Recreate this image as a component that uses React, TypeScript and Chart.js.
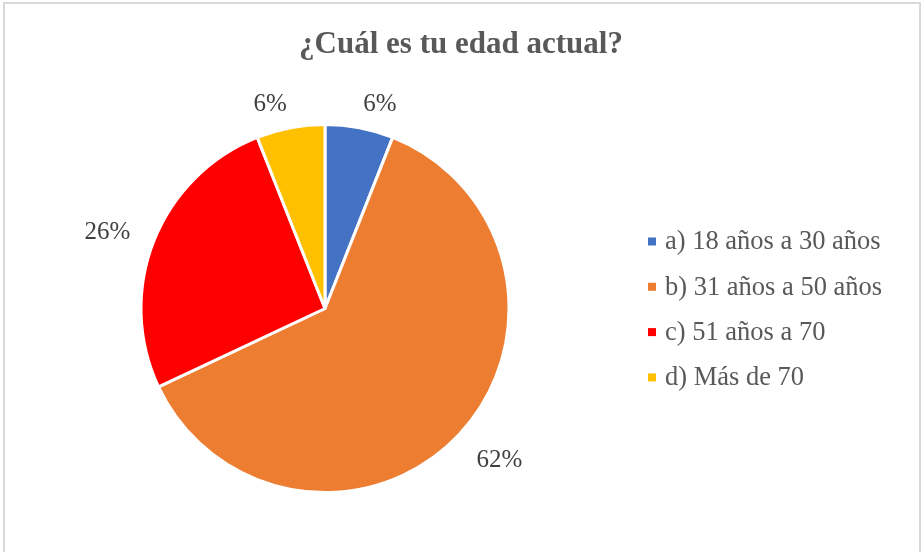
import React, { useEffect, useRef } from "react";
import { Chart, registerables } from "chart.js";

Chart.register(...registerables);

const categories = [
  "a) 18 años a 30 años",
  "b) 31 años a 50 años",
  "c) 51 años a 70",
  "d) Más de 70",
];
const percentValues = [6, 62, 26, 6];
const sliceColors = ["#4472C4", "#ED7D31", "#FF0000", "#FFC000"];
const titleText = "¿Cuál es tu edad actual?";

const SERIF = '"Liberation Serif", "Times New Roman", serif';

const overlayPlugin = {
  id: "overlay",
  afterDraw(chart: any) {
    const ctx = chart.ctx as CanvasRenderingContext2D;
    const meta = chart.getDatasetMeta(0);
    const data = chart.data.datasets[0].data as number[];
    const colors = chart.data.datasets[0].backgroundColor as string[];
    const labels = chart.data.labels as string[];
    ctx.save();

    // Title
    ctx.font = `bold 31px ${SERIF}`;
    ctx.fillStyle = "#595959";
    ctx.textAlign = "center";
    ctx.textBaseline = "middle";
    ctx.fillText(titleText, chart.width / 2, 45);

    // Data labels (outside end)
    ctx.font = `25px ${SERIF}`;
    ctx.fillStyle = "#404040";
    meta.data.forEach((arc: any, i: number) => {
      const { x, y, startAngle, endAngle, outerRadius } = arc.getProps(
        ["x", "y", "startAngle", "endAngle", "outerRadius"],
        true
      );
      const mid = (startAngle + endAngle) / 2;
      const dx = Math.cos(mid);
      const dy = Math.sin(mid);
      const txt = `${data[i]}%`;
      const w = ctx.measureText(txt).width;
      const pad = 18 + 8 * Math.abs(dx);
      const ax = x + dx * (outerRadius + pad);
      const ay = y + dy * (outerRadius + pad);
      const cx = ax + Math.sign(dx) * w / 2;
      const cy = ay + 4 + 8 * dy;
      ctx.textAlign = "center";
      ctx.textBaseline = "middle";
      ctx.fillText(txt, cx, cy);
    });

    // Legend
    const lx = 648;
    const ly0 = 241.5;
    const step = 45.3;
    ctx.font = `26.5px ${SERIF}`;
    labels.forEach((lab, i) => {
      const yy = ly0 + i * step;
      ctx.fillStyle = colors[i];
      ctx.fillRect(lx, yy - 4, 8, 8);
      ctx.fillStyle = "#595959";
      ctx.textAlign = "left";
      ctx.textBaseline = "middle";
      ctx.fillText(lab, lx + 17, yy + 1);
    });
    ctx.restore();
  },
};

export default function App() {
  const ref = useRef<HTMLCanvasElement | null>(null);
  useEffect(() => {
    if (!ref.current) return;
    const chart = new Chart(ref.current, {
      type: "pie",
      data: {
        labels: categories,
        datasets: [
          {
            data: percentValues,
            backgroundColor: sliceColors,
            borderColor: "#ffffff",
            borderWidth: 3,
            radius: 184,
          } as any,
        ],
      },
      options: {
        responsive: false,
        animation: false,
        events: [],
        layout: { padding: { left: 141, right: 413, top: 125, bottom: 60 } },
        plugins: {
          legend: { display: false },
          title: { display: false },
          tooltip: { enabled: false },
        },
      },
      plugins: [overlayPlugin],
    });
    return () => chart.destroy();
  }, []);

  return (
    <div
      style={{
        position: "fixed",
        left: 0,
        top: 0,
        width: 922,
        height: 552,
        background: "#ffffff",
        overflow: "hidden",
      }}
    >
      <canvas ref={ref} width={922} height={552} style={{ display: "block" }} />
      <div
        style={{
          position: "absolute",
          left: 3,
          top: 2,
          width: 914,
          height: 600,
          border: "2px solid #d9d9d9",
          pointerEvents: "none",
        }}
      />
    </div>
  );
}
